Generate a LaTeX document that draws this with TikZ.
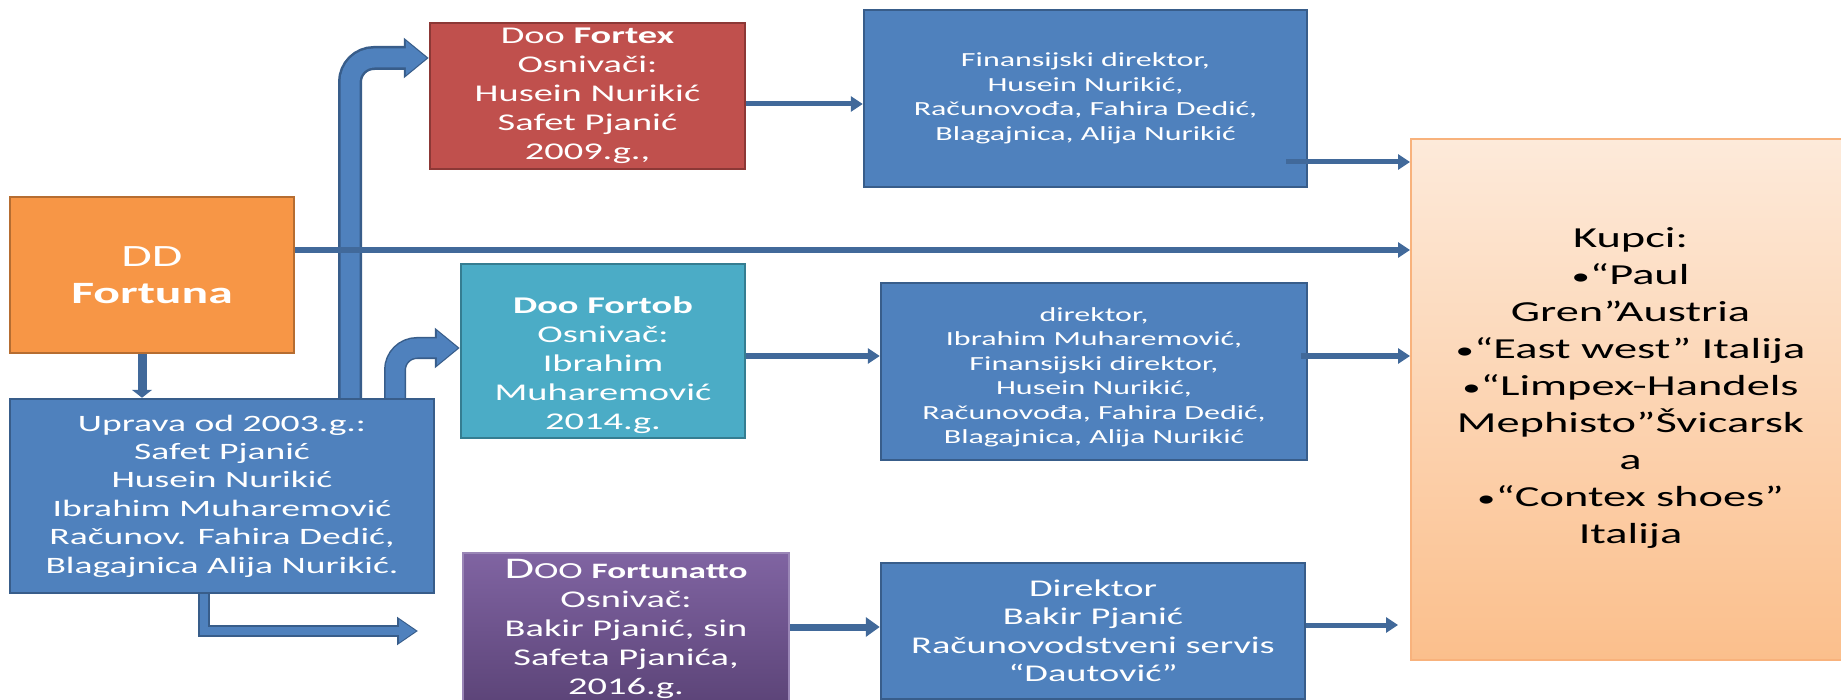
\documentclass[tikz,border=0pt]{standalone}
\usepackage{fontspec}
\setmainfont{Carlito}[FakeStretch=1.6]
\usetikzlibrary{arrows.meta}

\definecolor{fortunaFill}{HTML}{F79646}
\definecolor{fortunaEdge}{HTML}{B66D31}
\definecolor{blueFill}{HTML}{4F81BD}
\definecolor{blueEdge}{HTML}{385D8A}
\definecolor{redFill}{HTML}{C0504D}
\definecolor{redEdge}{HTML}{8C3836}
\definecolor{tealFill}{HTML}{4BACC6}
\definecolor{tealEdge}{HTML}{357D91}
\definecolor{purpleTop}{HTML}{8064A2}
\definecolor{purpleBot}{HTML}{5C4478}
\definecolor{purpleEdge}{HTML}{9A86B6}
\definecolor{kupciTop}{HTML}{FDEADA}
\definecolor{kupciBot}{HTML}{FBBF8C}
\definecolor{kupciEdge}{HTML}{F8B27C}
\definecolor{linkBlue}{HTML}{41699A}

\newcommand{\kbul}{{\fontsize{23}{37}\selectfont •}}

\begin{document}
\begin{tikzpicture}[x=1pt, y=-1pt,
  box/.style={rectangle, draw, line width=2.5pt, inner sep=0pt, align=center, text=white},
  bent/.style={draw=blueEdge, line width=24pt, rounded corners=24pt,
    -{Triangle[width=39pt,length=25pt]},
    postaction={draw=blueFill, line width=19pt, shorten >=2pt, -{Triangle[width=33pt,length=21pt]}}},
  link/.style={draw=linkBlue, line width=5pt, -{Triangle[width=15pt,length=12pt]}}]

\useasboundingbox (0,0) rectangle (1841,700);

% DD Fortuna and its management
\node[box, fill=fortunaFill, draw=fortunaEdge, minimum width=284pt, minimum height=156pt, font=\fontsize{31}{37}\selectfont] (fortuna) at (152,275) {DD\\\textbf{Fortuna}};
\node[box, fill=blueFill, draw=blueEdge, minimum width=424pt, minimum height=194pt, font=\fontsize{23.5}{28.4}\selectfont] (uprava) at (222,496) {Uprava od 2003.g.:\\Safet Pjanić\\Husein Nurikić\\Ibrahim Muharemović\\Računov. Fahira Dedić,\\Blagajnica Alija Nurikić.};

% Daughter companies
\node[box, fill=redFill, draw=redEdge, minimum width=315pt, minimum height=146pt, font=\fontsize{24}{29}\selectfont] (fortex) at (587.5,96) {Doo \textbf{Fortex}\\Osnivači:\\Husein Nurikić\\Safet Pjanić\\2009.g.,};
\node[box, fill=tealFill, draw=tealEdge, minimum width=284pt, minimum height=174pt, font=\fontsize{24}{29}\selectfont] (fortob) at (603,351) {\rule{0pt}{46pt}\textbf{Doo Fortob}\\Osnivač:\\Ibrahim\\Muharemović\\2014.g.};
\node[box, top color=purpleTop, bottom color=purpleBot, draw=purpleEdge, minimum width=326pt, minimum height=151pt, font=\fontsize{24}{29}\selectfont] (fortunatto) at (626,628.5) {{\fontsize{30}{29}\selectfont D}{\fontsize{23}{29}\selectfont OO} {\fontsize{22}{29}\selectfont\bfseries Fortunatto}\\Osnivač:\\Bakir Pjanić, sin\\Safeta Pjanića,\\2016.g.};

% Management of the companies
\node[box, fill=blueFill, draw=blueEdge, minimum width=443pt, minimum height=177pt, font=\fontsize{20}{24.5}\selectfont] (fin) at (1085.5,98.5) {Finansijski direktor,\\Husein Nurikić,\\Računovođa, Fahira Dedić,\\Blagajnica, Alija Nurikić};
\node[box, fill=blueFill, draw=blueEdge, minimum width=426pt, minimum height=177pt, font=\fontsize{20}{24.5}\selectfont] (dir) at (1094,371.5) {\rule{0pt}{25pt}direktor,\\Ibrahim Muharemović,\\Finansijski direktor,\\Husein Nurikić,\\Računovođa, Fahira Dedić,\\Blagajnica, Alija Nurikić};
\node[box, fill=blueFill, draw=blueEdge, minimum width=424pt, minimum height=136pt, font=\fontsize{24}{28.5}\selectfont] (bakir) at (1093,631) {Direktor\\Bakir Pjanić\\Računovodstveni servis\\“Dautović”};

% Customers
\node[box, top color=kupciTop, bottom color=kupciBot, draw=kupciEdge, line width=2pt, text=black, minimum width=439pt, minimum height=521pt, font=\fontsize{29}{37}\selectfont] (kupci) at (1630.5,399.5) {Kupci:\\\kbul“Paul\\Gren”Austria\\\kbul“East west” Italija\\\kbul“Limpex-Handels\\Mephisto”Švicarsk\\a\\\kbul“Contex shoes”\\Italija\rule[-28pt]{0pt}{0pt}};

% Bent block arrows
\draw[bent] ([xshift=128pt]uprava.north) |- ([yshift=38pt]fortex.west);
\draw[bent, line width=22pt, rounded corners=22pt] ([xshift=173pt]uprava.north) |- ([yshift=3pt]fortob.west);
\coordinate (fnend) at (418,631);
\draw[draw=blueEdge, line width=12pt, -{Triangle[width=27pt,length=21pt]},
  postaction={draw=blueFill, line width=8pt, shorten >=2pt, -{Triangle[width=22pt,length=17pt]}}]
  ([xshift=-18pt]uprava.south) |- (fnend);

% Thin arrows
\draw[link, line width=9pt, -{Triangle[width=20pt,length=8pt]}] ([xshift=-10pt]fortuna.south) -- ([xshift=-80pt]uprava.north);
\draw[link, line width=6pt] ([yshift=25pt]fortuna.east) -- ([yshift=149.5pt]kupci.west);
\draw[link] ([yshift=-8pt]fortex.east) -- ([yshift=-5.5pt]fin.west);
\draw[link] ([xshift=-22pt,yshift=-63.5pt]fin.east) -- ([yshift=237.5pt]kupci.west);
\draw[link] ([yshift=-5pt]fortob.east) -- ([yshift=15.5pt]dir.west);
\draw[link] ([xshift=-7pt,yshift=15.5pt]dir.east) -- ([yshift=43.5pt]kupci.west);
\draw[link, line width=7pt, -{Triangle[width=19pt,length=14pt]}] ([yshift=1.5pt]fortunatto.east) -- ([yshift=4pt]bakir.west);
\coordinate (bkend) at (1398,625);
\draw[link] ([yshift=6pt]bakir.east) -- (bkend);

\end{tikzpicture}
\end{document}
